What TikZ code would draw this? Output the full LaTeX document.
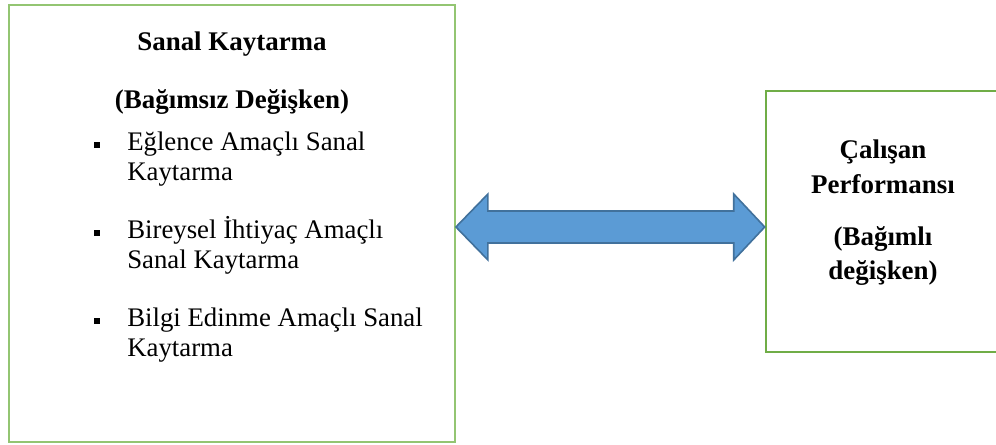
\documentclass[tikz,border=0pt]{standalone}
\usepackage{fontspec}
\setmainfont{Liberation Serif}
\usetikzlibrary{fit,calc}
\definecolor{gl}{HTML}{93C572}
\definecolor{gr}{HTML}{70AD47}
\definecolor{af}{HTML}{5B9BD5}
\definecolor{ad}{HTML}{41719C}
\begin{document}
\begin{tikzpicture}[x=0.75pt,y=-0.75pt,
  leftbox/.style={draw=gl, line width=1.4pt, inner sep=0pt},
  rightbox/.style={draw=gr, line width=1.9pt, inner sep=0pt},
  headtxt/.style={font=\fontsize{20.2}{23}\selectfont\bfseries, inner sep=0pt, anchor=mid},
  itemtxt/.style={font=\fontsize{20.1}{23}\selectfont, inner sep=0pt, anchor=mid west},
  bul/.style={fill=black, minimum size=5pt, inner sep=0pt},
  blockarrow/.style={fill=af, draw=ad, line width=1.2pt, line join=miter}]
\useasboundingbox (0,0) rectangle (996,445);
\clip (0,0) rectangle (996,445);
\fill[white] (0,0) rectangle (996,445);
% boxes
\node[leftbox, fit={(9,5) (455,442)}] (L) {};
\node[rightbox, fit={(766,91) (1010,352)}] (R) {};
% left texts
\node[headtxt] (t1) at (232,47) {Sanal Kaytarma};
\node[headtxt] (t2) at (232,105) {(Bağımsız Değişken)};
\node[bul] (b1) at (97,145) {};
\node[itemtxt] (i1a) at (127,147) {Eğlence Amaçlı Sanal};
\node[itemtxt] (i1b) at (127,177) {Kaytarma};
\node[bul] (b2) at (97,233) {};
\node[itemtxt] (i2a) at (127,235) {Bireysel İhtiyaç Amaçlı};
\node[itemtxt] (i2b) at (127,265) {Sanal Kaytarma};
\node[bul] (b3) at (97,321) {};
\node[itemtxt] (i3a) at (127,323) {Bilgi Edinme Amaçlı Sanal};
\node[itemtxt] (i3b) at (127,353) {Kaytarma};
% right texts
\node[headtxt] (r1) at (883,155) {Çalışan};
\node[headtxt] (r2) at (883,190) {Performansı};
\node[headtxt] (r3) at (883,242) {(Bağımlı};
\node[headtxt] (r4) at (883,276) {değişken)};
% double block arrow between the boxes
\coordinate (lt) at (L.east |- 0,227);
\coordinate (rt) at (R.west |- 0,227);
\draw[blockarrow] (lt) -- ++(32,-33) -- ++(0,17) -- ($(rt)+(-31,-16)$) -- ++(0,-17) -- (rt)
  -- ++(-31,33) -- ++(0,-17) -- ($(lt)+(32,16)$) -- ++(0,17) -- cycle;
\end{tikzpicture}
\end{document}
